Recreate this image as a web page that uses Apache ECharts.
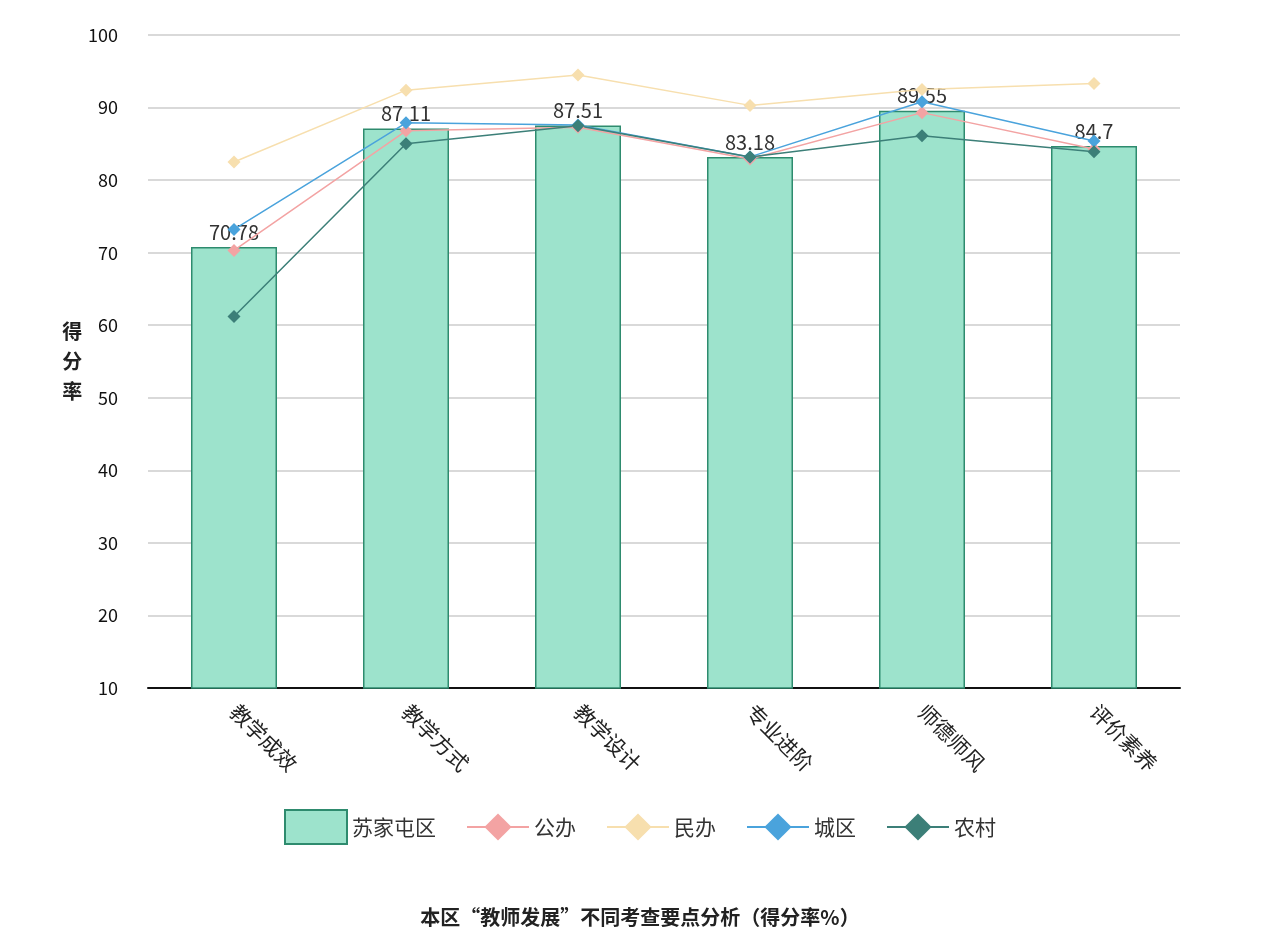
<!DOCTYPE html>
<html>
<head>
<meta charset="utf-8">
<script src="https://cdn.jsdelivr.net/npm/echarts@6/dist/echarts.min.js"></script>
<style>body{margin:0;background:#fff}#main{width:1280px;height:946px}</style>
</head>
<body>
<div id="main"></div>
<script>
const categories = ['教学成效', '教学方式', '教学设计', '专业进阶', '师德师风', '评价素养'];
const suJia = [70.78, 87.11, 87.51, 83.18, 89.55, 84.7];
const gongBan = [70.3, 86.8, 87.3, 82.9, 89.3, 84.3];
const minBan = [82.5, 92.4, 94.5, 90.3, 92.5, 93.3];
const chengQu = [73.2, 87.9, 87.6, 83.2, 90.8, 85.4];
const nongCun = [61.2, 85.0, 87.5, 83.2, 86.1, 83.9];

const font = '"Noto Sans CJK SC", sans-serif';
const chart = echarts.init(document.getElementById('main'));

function lineSeries(name, data, color) {
    return {
        name: name, type: 'line', data: data,
        symbol: 'diamond', symbolSize: 13,
        itemStyle: { color: color },
        lineStyle: { color: color, width: 1.5 }
    };
}

chart.setOption({
    textStyle: { fontFamily: font },
    title: {
        text: '本区“教师发展”不同考查要点分析（得分率%）',
        left: 'center', top: 902,
        textStyle: { fontSize: 20, fontWeight: 'bold', color: '#222', fontFamily: font }
    },
    legend: {
        top: 804, left: 'center', itemGap: 30, itemWidth: 62, itemHeight: 34,
        textStyle: { fontSize: 21, color: '#333' },
        data: [
            { name: '苏家屯区', icon: 'rect' },
            { name: '公办' }, { name: '民办' }, { name: '城区' }, { name: '农村' }
        ]
    },
    grid: { left: 148, right: 100, top: 35, bottom: 258 },
    xAxis: {
        type: 'category', data: categories,
        axisLine: { lineStyle: { color: '#111', width: 2 } },
        axisTick: { show: false },
        axisLabel: { rotate: -45, fontSize: 21, color: '#222', margin: 20 }
    },
    yAxis: {
        type: 'value', min: 10, max: 100, interval: 10,
        name: '得\n分\n率', nameLocation: 'middle', nameGap: 60, nameRotate: 0,
        nameTextStyle: { fontSize: 20, fontWeight: 'bold', color: '#222', lineHeight: 30 },
        axisLine: { show: false }, axisTick: { show: false },
        axisLabel: { fontSize: 18, color: '#111', margin: 30 },
        splitLine: { lineStyle: { color: '#ccc', width: 1.5 } }
    },
    series: [
        {
            name: '苏家屯区', type: 'bar', data: suJia, barWidth: '50%',
            itemStyle: { color: '#9de3cc', borderColor: '#2e8b6e', borderWidth: 1.5 },
            label: { show: true, position: 'top', fontSize: 20, color: '#333' }
        },
        lineSeries('公办', gongBan, '#f3a3a3'),
        lineSeries('民办', minBan, '#f7dfae'),
        lineSeries('城区', chengQu, '#4aa3dc'),
        lineSeries('农村', nongCun, '#3c7f78')
    ]
});
</script>
</body>
</html>
